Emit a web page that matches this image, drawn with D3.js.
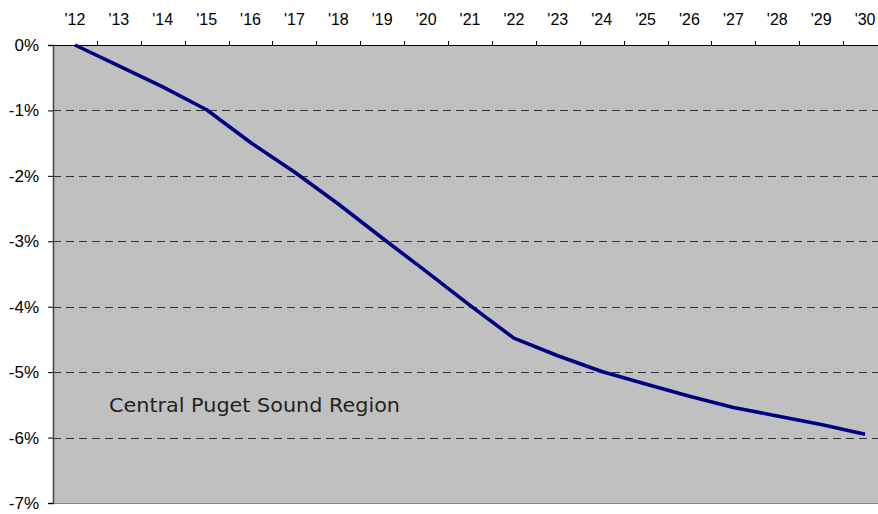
<!DOCTYPE html>
<html>
<head>
<meta charset="utf-8">
<script src="https://cdn.jsdelivr.net/npm/d3@7"></script>
<style>
  html, body { margin: 0; padding: 0; background: #fff; overflow: hidden; }
  svg { display: block; }
</style>
</head>
<body>
<svg id="chart" width="878" height="514"></svg>
<script>
// Year labels along the top axis
const years = ["'12","'13","'14","'15","'16","'17","'18","'19","'20","'21",
               "'22","'23","'24","'25","'26","'27","'28","'29","'30"];
// Percent change, Central Puget Sound Region
const change = [0, -0.32, -0.64, -0.99, -1.49, -1.94, -2.43, -2.95, -3.46, -3.98,
                -4.48, -4.75, -4.99, -5.18, -5.37, -5.54, -5.67, -5.80, -5.95];
// Y tick values (percent)
const yTicks = [0, -1, -2, -3, -4, -5, -6, -7];
const gridValues = [-1, -2, -3, -4, -5, -6];
const regionLabel = "Central Puget Sound Region";

const svg = d3.select("#chart");
const plotLeft = 53, plotRight = 887, plotTop = 45, plotBottom = 503;

const x = d3.scaleBand().domain(years).range([plotLeft, plotRight]).paddingInner(0).paddingOuter(0);
const y = d3.scaleLinear().domain([-7, 0]).range([plotBottom, plotTop]);

// plot background
svg.append("rect")
  .attr("x", plotLeft).attr("y", plotTop)
  .attr("width", plotRight - plotLeft).attr("height", plotBottom - plotTop)
  .attr("fill", "#c0c0c0");

// dashed gridlines
svg.append("g").selectAll("line").data(gridValues).join("line")
  .attr("x1", plotLeft).attr("x2", plotRight)
  .attr("y1", d => Math.round(y(d)) + 0.5).attr("y2", d => Math.round(y(d)) + 0.5)
  .attr("stroke", "#333").attr("stroke-width", 1)
  .attr("stroke-dasharray", "8,5");

// bottom edge of plot
svg.append("line")
  .attr("x1", plotLeft).attr("x2", plotRight)
  .attr("y1", plotBottom + 0.5).attr("y2", plotBottom + 0.5)
  .attr("stroke", "#888").attr("stroke-width", 1);

// left axis
const yAxis = d3.axisLeft(y).tickValues(yTicks).tickSize(5).tickPadding(9)
  .tickFormat(d => d + "%");
const gy = svg.append("g").attr("transform", `translate(${plotLeft},0)`).call(yAxis);
gy.select(".domain").attr("stroke", "#444").attr("stroke-width", 1.5);
gy.selectAll(".tick line").attr("stroke", "#000");
gy.selectAll("text").attr("font-family", "Liberation Sans, Arial, sans-serif")
  .attr("font-size", 17).attr("fill", "#000");

// top axis: labels centered in each band, ticks on band boundaries
const xAxis = d3.axisTop(x).tickSize(0).tickPadding(20);
const gx = svg.append("g").attr("transform", `translate(0,${plotTop})`).call(xAxis);
gx.select(".domain").remove();
gx.selectAll("text").attr("font-family", "Liberation Sans, Arial, sans-serif")
  .attr("font-size", 16).attr("fill", "#000");

svg.append("line")
  .attr("x1", plotLeft).attr("x2", plotRight)
  .attr("y1", plotTop + 0.5).attr("y2", plotTop + 0.5)
  .attr("stroke", "#000").attr("stroke-width", 1);
svg.append("g").selectAll("line").data(years.slice(1)).join("line")
  .attr("x1", d => Math.round(x(d)) + 0.5).attr("x2", d => Math.round(x(d)) + 0.5)
  .attr("y1", plotTop - 4).attr("y2", plotTop)
  .attr("stroke", "#000").attr("stroke-width", 1);

// data line
const line = d3.line()
  .x((d, i) => x(years[i]) + x.bandwidth() / 2)
  .y(d => y(d));
svg.append("path")
  .datum(change)
  .attr("d", line)
  .attr("fill", "none")
  .attr("stroke", "#000080")
  .attr("stroke-width", 3.6)
  .attr("stroke-linejoin", "round")
  .attr("stroke-linecap", "butt");

// region label
svg.append("text")
  .attr("x", 109).attr("y", 412)
  .attr("font-family", "DejaVu Sans, sans-serif")
  .attr("font-size", 20)
  .attr("fill", "#222")
  .attr("textLength", 291)
  .attr("lengthAdjust", "spacingAndGlyphs")
  .text(regionLabel);
</script>
</body>
</html>
